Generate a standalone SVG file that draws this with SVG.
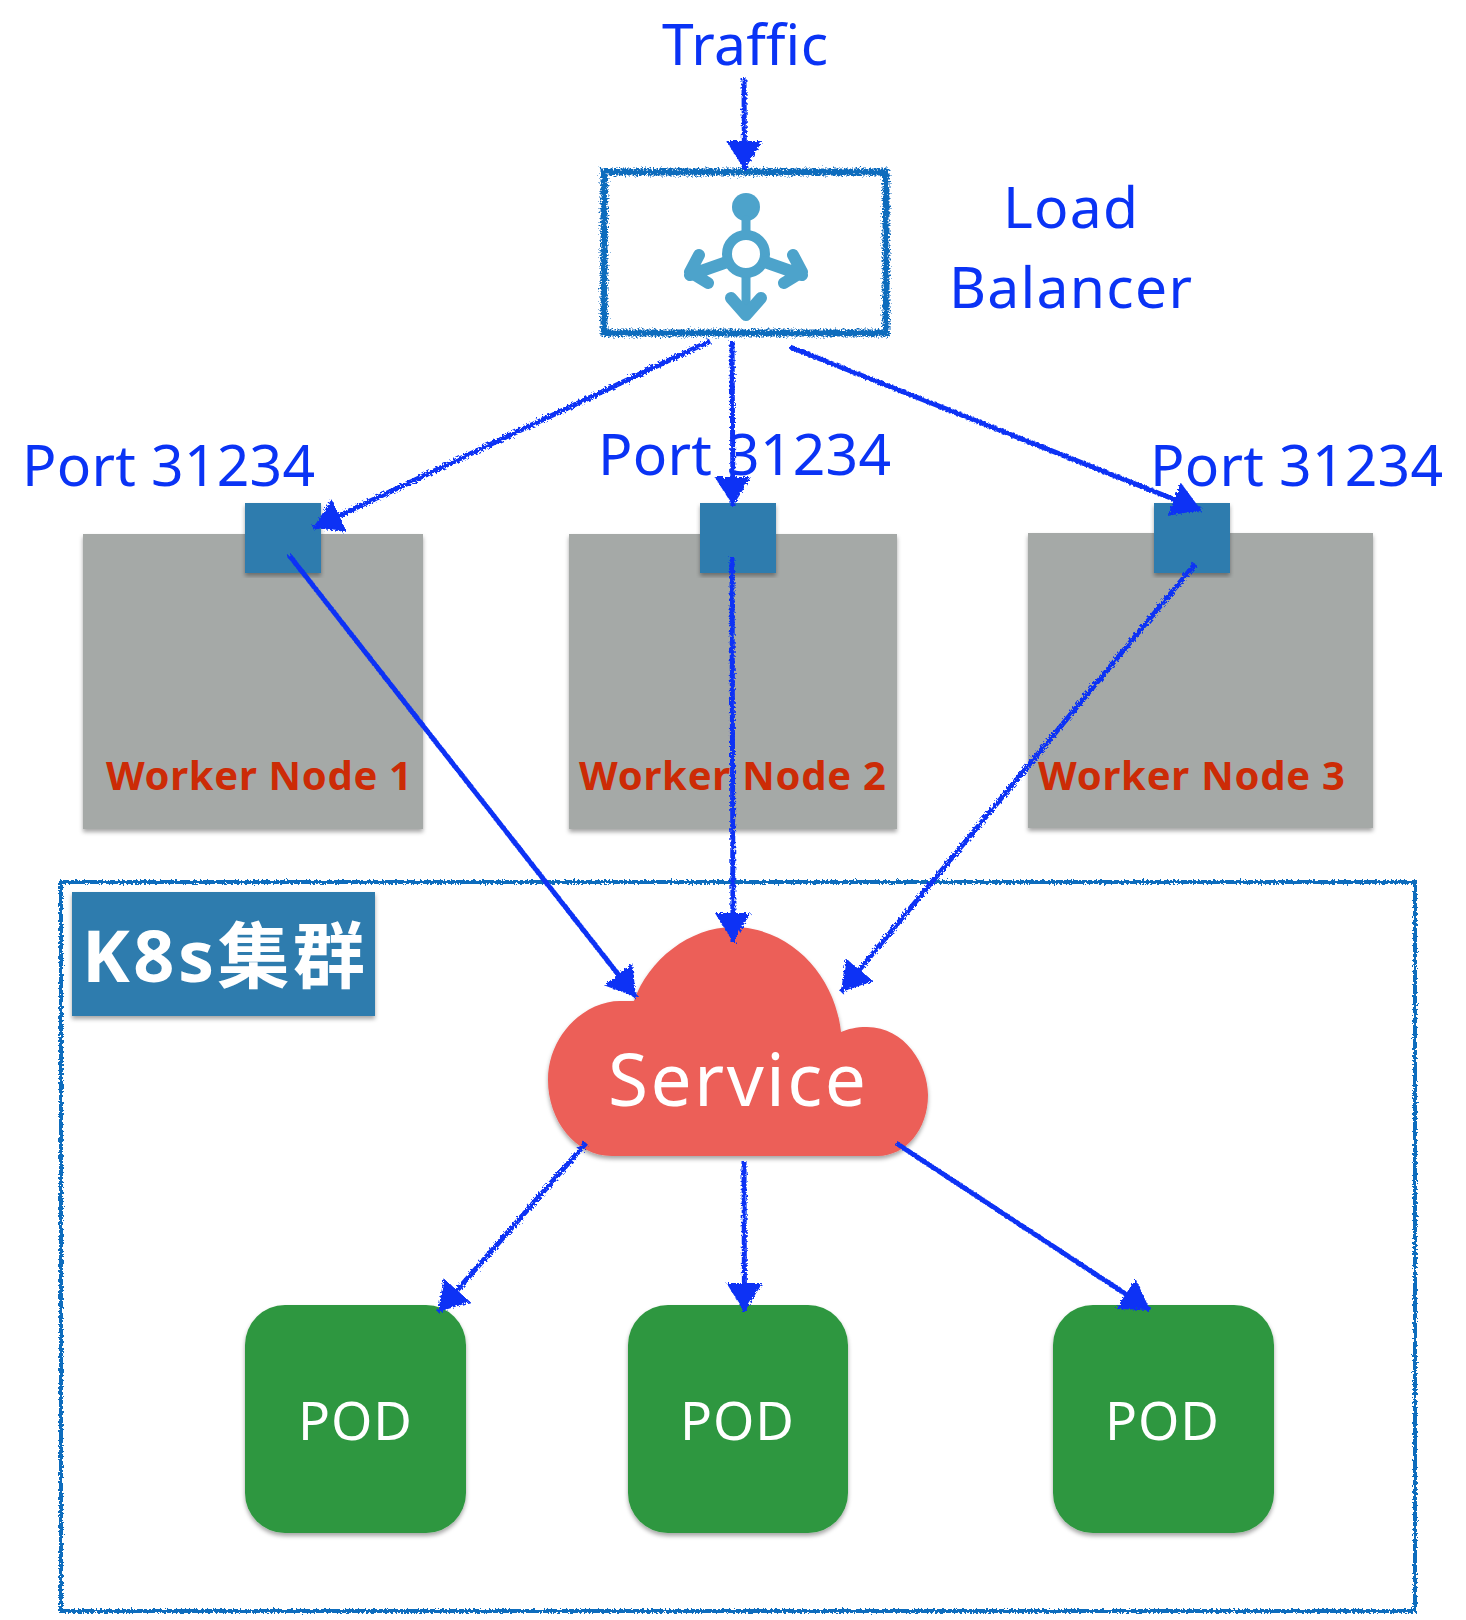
<svg xmlns="http://www.w3.org/2000/svg" width="1466" height="1620" viewBox="0 0 1466 1620">
<style>
text{font-family:"Noto Sans","Noto Sans CJK SC",sans-serif}
.b{fill:#0a33f5;font-size:57px}
.w{fill:#cc2b06;font-size:40px;font-weight:700}
.p{fill:#fff;font-size:53px}
.c{fill:none;stroke:#0a33f5;stroke-width:5;filter:url(#r);marker-end:url(#a)}
.g{fill:#a5a9a7;filter:url(#s)}
.q{fill:#2e7bae;filter:url(#s)}
.pod{fill:#2e973f;filter:url(#s)}
.f{fill:#4da3cb}
.l{stroke:#4da3cb;stroke-width:12;fill:none;stroke-linecap:round;stroke-linejoin:round}
</style>
<defs>
<filter id="r" x="0" y="0" width="1466" height="1620" filterUnits="userSpaceOnUse"><feTurbulence type="fractalNoise" baseFrequency="0.45" numOctaves="2" seed="3"/><feDisplacementMap in="SourceGraphic" scale="5"/></filter>
<filter id="r2" x="0" y="0" width="1466" height="1620" filterUnits="userSpaceOnUse"><feTurbulence type="fractalNoise" baseFrequency="0.6" numOctaves="2" seed="7"/><feDisplacementMap in="SourceGraphic" scale="8"/></filter>
<filter id="s" x="-5%" y="-5%" width="110%" height="112%"><feDropShadow dx="0" dy="3" stdDeviation="2" flood-color="#000" flood-opacity=".35"/></filter>
<marker id="a" markerUnits="userSpaceOnUse" markerWidth="40" markerHeight="40" refX="29" refY="18" orient="auto"><path d="M0 0 L29 18 L0 36 Z" fill="#0a33f5"/></marker>
</defs>
<g id="cluster"><rect x="61" y="882" width="1354" height="729" fill="none" stroke="#0f6cbd" stroke-width="4" filter="url(#r)"/></g>
<g id="k8s"><rect class="q" x="72" y="892" width="303" height="124"/><text x="82" y="982" fill="#fff" font-size="72" font-weight="700" textLength="283">K8s集群</text></g>
<g id="traffic"><text class="b" x="662" y="65" textLength="166">Traffic</text></g>
<g id="lb">
<rect x="604" y="172" width="282" height="161" fill="none" stroke="#0f6cbd" stroke-width="7" filter="url(#r2)"/>
<ellipse class="f" cx="746" cy="207" rx="14" ry="14"/>
<path class="l" style="stroke-width:9" d="M746 220V236M746 272V312"/>
<circle cx="746" cy="254" r="19" fill="#fff" stroke="#4da3cb" stroke-width="10"/>
<path class="l" d="M727 262L690 275M699 255L690 272L708 283M765 262L802 275M793 255L802 272L784 283M731 298L746 315L761 298"/>
</g>
<g id="lb-label"><text class="b" x="1003" y="228" textLength="135">Load</text><text class="b" x="949" y="308" textLength="243">Balancer</text></g>
<g id="node1"><rect class="g" x="83" y="534" width="340" height="295"/><rect class="q" x="245" y="503" width="76" height="70"/><text class="b" x="22" y="486" textLength="293">Port 31234</text><text class="w" x="106" y="790" textLength="306">Worker Node 1</text></g>
<g id="node2"><rect class="g" x="569" y="534" width="328" height="295"/><rect class="q" x="700" y="503" width="76" height="70"/><text class="b" x="598" y="475" textLength="293">Port 31234</text><text class="w" x="579" y="790" textLength="307">Worker Node 2</text></g>
<g id="node3"><rect class="g" x="1028" y="533" width="345" height="295"/><rect class="q" x="1154" y="503" width="76" height="70"/><text class="b" x="1150" y="486" textLength="293">Port 31234</text><text class="w" x="1038" y="790" textLength="307">Worker Node 3</text></g>
<g id="service"><path d="M634 1001C648 960 690 927 733 927C790 927 835 975 841 1032C848 1029 856 1027 867 1027C905 1027 928 1065 928 1095C928 1130 905 1156 878 1156H612C575 1156 548 1120 548 1080C548 1035 585 1001 620 1001C625 1001 630 1001 634 1001Z" fill="#ec5e58" filter="url(#s)"/><text x="608" y="1106" fill="#fff" font-size="73" textLength="258">Service</text></g>
<g id="pod1"><rect class="pod" x="245" y="1305" width="221" height="228" rx="40"/><text class="p" x="298" y="1440" textLength="114">POD</text></g>
<g id="pod2"><rect class="pod" x="628" y="1305" width="220" height="228" rx="40"/><text class="p" x="680" y="1440" textLength="114">POD</text></g>
<g id="pod3"><rect class="pod" x="1053" y="1305" width="221" height="228" rx="40"/><text class="p" x="1105" y="1440" textLength="114">POD</text></g>
<g id="connectors">
<path class="c" d="M744 78L744.5 170"/>
<path class="c" d="M710 341L313 528"/>
<path class="c" d="M732 341L733 506"/>
<path class="c" d="M790 347L1201 510"/>
<path class="c" d="M289 555L636 997"/>
<path class="c" d="M732 557L733 942"/>
<path class="c" d="M1195 564L841 992"/>
<path class="c" d="M586 1143L438 1312"/>
<path class="c" d="M744 1161L744.5 1312"/>
<path class="c" d="M896 1143L1150 1310"/>
</g>
</svg>
